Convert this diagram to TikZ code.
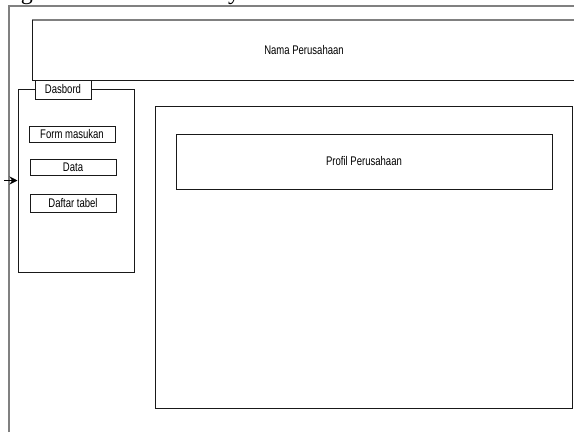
\documentclass[tikz,border=0pt]{standalone}
\usepackage{fontspec}
\setmainfont{Liberation Sans}[FakeStretch=0.76]
\newfontfamily\headfont{Liberation Serif}
\usetikzlibrary{fit,arrows.meta}
\tikzset{
  frameline/.style={draw=black!50, line width=0.9pt},
  boxline/.style={draw=black!90, line width=0.75pt},
  box/.style={boxline, inner sep=0pt, fill=white},
  lbl/.style={font=\fontsize{9.4pt}{11pt}\selectfont, text=black, inner sep=0pt},
  headtxt/.style={font=\headfont\fontsize{18pt}{20pt}\selectfont, anchor=base, inner sep=0pt},
}
\begin{document}
\begin{tikzpicture}[x=0.75pt,y=-0.75pt]
\useasboundingbox (0,0) rectangle (574,432);
\clip (0,0) rectangle (574,432);
% caption line above the frame (only its descenders fall inside)
\node[headtxt] (capg) at (27,-1) {g};
\node[headtxt] (capy) at (234,-1) {y};
% outer page frame
\draw[frameline] (9,432) -- (9,6) -- (574,6);
% header band
\draw[frameline] (574,20) -- (32,20);
\draw[boxline] (32,20) -- (32,80) -- (574,80);
\node[lbl] (nama) at (304,50) {Nama Perusahaan};
% dashboard panel with tab
\node[box, fit={(18,89) (134,272)}] (dash) {};
\node[box, fit={(35,80) (91,99)}] (tab) {};
\node[lbl] (tabtxt) at (tab) {Dasbord};
\node[box, fit={(29,126) (115,142)}] (form) {};
\node[lbl] (formtxt) at (form) {Form masukan};
\node[box, fit={(30,159) (116,175)}] (data) {};
\node[lbl] (datatxt) at (data) {Data};
\node[box, fit={(30,194) (116,212)}] (tabel) {};
\node[lbl] (tabeltxt) at (tabel) {Daftar tabel};
% entry arrow into the panel
\coordinate (entry) at (4,180.5);
\draw[line width=0.8pt, -{Stealth[length=6pt,width=6pt]}] (entry) -- (dash.west);
% content area
\node[box, fit={(155,106) (572,408)}] (content) {};
\node[box, fit={(176,134) (552,189)}] (profil) {};
\node[lbl] (profiltxt) at (profil) {Profil Perusahaan};
\end{tikzpicture}
\end{document}
